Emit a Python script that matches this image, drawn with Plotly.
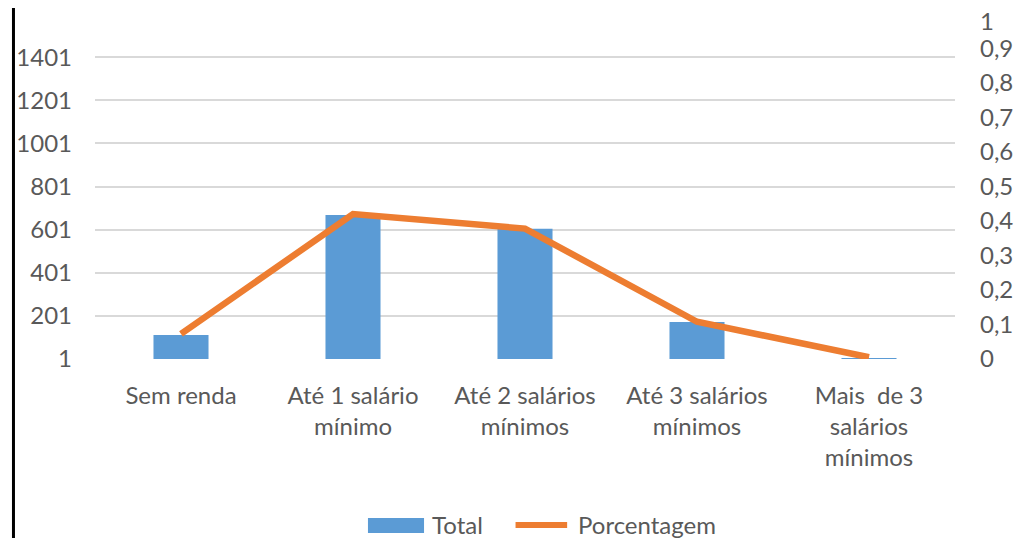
import plotly.graph_objects as go

categories = ["Sem renda", "Até 1 salário<br>mínimo", "Até 2 salários<br>mínimos",
              "Até 3 salários<br>mínimos", "Mais  de 3<br>salários<br>mínimos"]
total = [112, 669, 605, 173, 2]
porcentagem = [0.073, 0.42, 0.378, 0.108, 0.005]
left_ticks = [1, 201, 401, 601, 801, 1001, 1201, 1401]
right_ticks = [0, 0.1, 0.2, 0.3, 0.4, 0.5, 0.6, 0.7, 0.8, 0.9]
right_top_tick = 1

FONT = "Lato"
GRAY = "#595959"
FS = 24
BLUE = "#5B9BD5"
ORANGE = "#ED7D31"

fig = go.Figure()
fig.add_trace(go.Bar(x=categories, y=total, name="Total", marker_color=BLUE,
                     marker_line_width=0, yaxis="y", showlegend=False))
fig.add_trace(go.Scatter(x=categories, y=porcentagem, name="Porcentagem", mode="lines",
                         line=dict(color=ORANGE, width=6.5), yaxis="y2", showlegend=False))

fig.update_layout(
    width=1015, height=530,
    margin=dict(l=87, r=68, t=6, b=179, autoexpand=False),
    paper_bgcolor="white", plot_bgcolor="white",
    separators=",.",
    bargap=0.68,
    font=dict(family=FONT, size=FS, color=GRAY),
    xaxis=dict(showgrid=False, showline=False, zeroline=False, ticks="", automargin=False,
               ticklabelstandoff=20,
               tickfont=dict(family=FONT, size=FS, color=GRAY)),
    yaxis=dict(range=[1, 1601], tickvals=left_ticks, showgrid=True, gridcolor="#D9D9D9",
               gridwidth=2, zeroline=False, showline=False, ticklabelstandoff=22,
               automargin=False, ticklabeloverflow="allow",
               tickfont=dict(family=FONT, size=FS, color=GRAY)),
    yaxis2=dict(range=[0, 1], tickvals=right_ticks, overlaying="y", side="right",
                showgrid=False, zeroline=False, showline=False, ticklabelstandoff=24,
                automargin=False, ticklabeloverflow="allow",
                tickfont=dict(family=FONT, size=FS, color=GRAY)),
    showlegend=False,
)

# top label of the right axis, nudged down slightly like in the original so it stays inside the picture
fig.add_annotation(xref="paper", yref="y2", x=1.0265, y=right_top_tick, xanchor="left",
                   yanchor="middle", yshift=-6, text=str(right_top_tick), showarrow=False,
                   font=dict(family=FONT, size=FS, color=GRAY))

# left border line of the picture
fig.add_shape(type="line", xref="paper", yref="paper", x0=-0.0948, x1=-0.0948, y0=-0.6, y1=1.05,
              line=dict(color="black", width=3))

# legend (drawn manually to match the wide Excel legend keys)
fig.add_shape(type="rect", xref="paper", yref="paper", x0=0.3174, x1=0.3826, y0=-0.5043, y1=-0.4609,
              fillcolor=BLUE, line=dict(width=0))
fig.add_shape(type="line", xref="paper", yref="paper", x0=0.489, x1=0.549, y0=-0.481, y1=-0.481,
              line=dict(color=ORANGE, width=6))
fig.add_annotation(xref="paper", yref="paper", x=0.3895, y=-0.481, xanchor="left", yanchor="middle",
                   text="Total", showarrow=False, font=dict(family=FONT, size=FS, color=GRAY))
fig.add_annotation(xref="paper", yref="paper", x=0.559, y=-0.481, xanchor="left", yanchor="middle",
                   text="Porcentagem", showarrow=False, font=dict(family=FONT, size=FS, color=GRAY))
fig.write_html("out.html")
